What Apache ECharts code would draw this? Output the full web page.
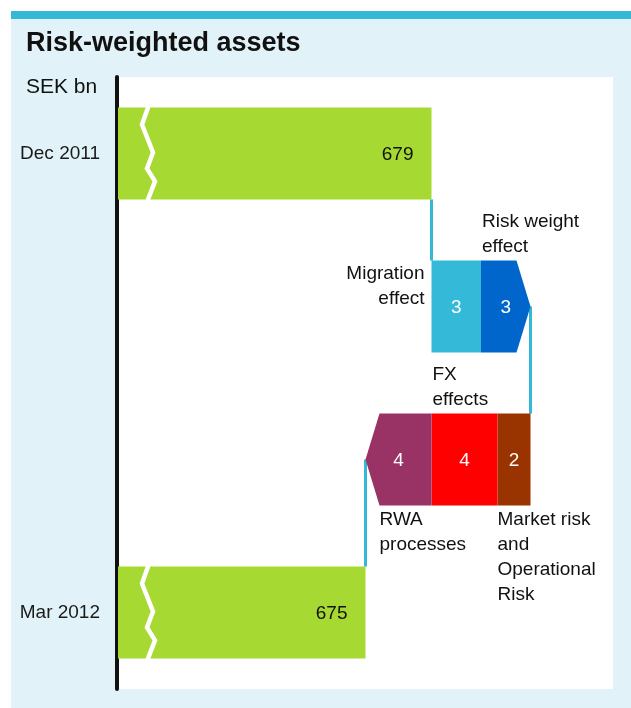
<!DOCTYPE html>
<html>
<head>
<meta charset="utf-8">
<script src="https://cdn.jsdelivr.net/npm/echarts@6/dist/echarts.min.js"></script>
<style>
  html, body { margin: 0; padding: 0; background: #fff; }
  #chart { width: 631px; height: 708px; }
</style>
</head>
<body>
<div id="chart"></div>
<script>
// rows of the bridge, top to bottom
const categories = ['Dec 2011', '', '', 'Mar 2012']
const startTotal = 679
const endTotal = 675

// steps in the order they are walked, from Dec 2011 towards Mar 2012
const stepNames = ['Migration\neffect', 'Risk weight\neffect', 'Market risk\nand\nOperational\nRisk', 'FX\neffects', 'RWA\nprocesses']
const stepValues = [3, 3, -2, -4, -4]
const stepRows = [1, 1, 2, 2, 2]

const stepColors = ['#35b9d8', '#0066cc', '#993300', '#ff0000', '#993366']
const stepNameSide = ['left', 'top', 'bottom', 'top', 'bottom']

const FONT = "'Liberation Sans', Arial, sans-serif"
const GREEN = '#a6d932'
const TEAL = '#35b8d6'

// cumulative walk
const stepData = []
let level = startTotal
stepValues.forEach((v, i) => {
  stepData.push([level, level + v, stepRows[i], i])
  level += v
})
// last piece of each row gets an arrow tip
const isArrow = stepData.map((d, i) => i === stepData.length - 1 || stepRows[i + 1] !== stepRows[i])

const totalData = [[startTotal, 0], [endTotal, categories.length - 1]]

// connector lines: [value, fromRow, toRow, fromMiddle]
const connectorData = [[startTotal, 0, 1, 0]]
stepData.forEach((d, i) => {
  if (isArrow[i]) connectorData.push([d[1], d[2], d[2] + 1, 1])
})

const chart = echarts.init(document.getElementById('chart'))

function renderTotal(params, api) {
  const cs = params.coordSys
  const end = api.coord([api.value(0), api.value(1)])
  const h = api.size([0, 1])[1] * 0.6
  const x0 = cs.x
  const top = end[1] - h / 2
  const zig = [[30, -2], [30, 0], [24, 17], [35, 45], [29, 61], [37, 74], [30, 92], [30, 94]]
    .map(p => [x0 + p[0], top + p[1] * h / 92])
  return {
    type: 'group',
    children: [
      { type: 'rect', shape: { x: x0, y: top, width: end[0] - x0, height: h }, style: { fill: GREEN } },
      { type: 'polyline', shape: { points: zig }, style: { stroke: '#fff', lineWidth: 4.5, fill: null } },
      {
        type: 'text',
        style: {
          text: String(api.value(0)), x: end[0] - 18, y: end[1] + 1,
          align: 'right', verticalAlign: 'middle',
          fontSize: 19, fontFamily: FONT, fill: '#111'
        }
      }
    ]
  }
}

function renderStep(params, api) {
  const i = params.dataIndex
  const a = api.coord([api.value(0), api.value(2)])
  const b = api.coord([api.value(1), api.value(2)])
  const h = api.size([0, 1])[1] * 0.6
  const top = a[1] - h / 2
  const bottom = a[1] + h / 2
  const dir = b[0] >= a[0] ? 1 : -1
  const tip = isArrow[i] ? 14 * dir : 0
  const pts = [[a[0], top], [b[0] - tip, top], [b[0], a[1]], [b[0] - tip, bottom], [a[0], bottom]]
  const rectLeft = Math.min(a[0], b[0] - tip)
  const side = stepNameSide[i]
  let nameStyle
  if (side === 'left') {
    nameStyle = { x: Math.min(a[0], b[0]) - 7, y: a[1] - 20, align: 'right', verticalAlign: 'middle' }
  } else if (side === 'top') {
    nameStyle = { x: rectLeft + 1, y: top - 1, align: 'left', verticalAlign: 'bottom' }
  } else {
    nameStyle = { x: rectLeft, y: bottom + 2, align: 'left', verticalAlign: 'top' }
  }
  return {
    type: 'group',
    children: [
      { type: 'polygon', shape: { points: pts }, style: { fill: stepColors[i] } },
      {
        type: 'text',
        style: {
          text: String(Math.abs(stepValues[i])), x: (a[0] + b[0]) / 2, y: a[1] + 1,
          align: 'center', verticalAlign: 'middle',
          fontSize: 19, fontFamily: FONT, fill: '#fff'
        }
      },
      {
        type: 'text',
        style: Object.assign({
          text: stepNames[i], fontSize: 19, lineHeight: 25, fontFamily: FONT, fill: '#111'
        }, nameStyle)
      }
    ]
  }
}

function renderConnector(params, api) {
  const h = api.size([0, 1])[1] * 0.6
  const from = api.coord([api.value(0), api.value(1)])
  const to = api.coord([api.value(0), api.value(2)])
  const y1 = api.value(3) ? from[1] : from[1] + h / 2
  const y2 = to[1] - h / 2
  return {
    type: 'line',
    shape: { x1: from[0], y1: y1, x2: from[0], y2: y2 },
    style: { stroke: TEAL, lineWidth: 3 }
  }
}

const option = {
  backgroundColor: '#e1f3f8',
  animation: false,
  graphic: [
    { type: 'rect', shape: { x: 0, y: 0, width: 631, height: 11 }, style: { fill: '#fff' } },
    { type: 'rect', shape: { x: 0, y: 0, width: 11, height: 708 }, style: { fill: '#fff' } },
    { type: 'rect', shape: { x: 11, y: 11, width: 620, height: 8 }, style: { fill: TEAL } }
  ],
  title: [
    {
      text: 'Risk-weighted assets',
      left: 21,
      top: 25,
      textStyle: { fontSize: 27, fontWeight: 'bold', fontFamily: FONT, color: '#111' }
    },
    {
      text: 'SEK bn',
      left: 21,
      top: 72,
      textStyle: { fontSize: 21, fontWeight: 'normal', fontFamily: FONT, color: '#111' }
    }
  ],
  grid: {
    left: 118,
    right: 18,
    top: 77,
    bottom: 19,
    show: true,
    backgroundColor: '#fff',
    borderWidth: 0
  },
  xAxis: {
    type: 'value',
    min: 660,
    max: 690,
    show: false
  },
  yAxis: {
    type: 'category',
    data: categories,
    inverse: true,
    offset: 1,
    axisLine: { lineStyle: { color: '#111', width: 4, cap: 'round' } },
    axisTick: { show: false },
    splitLine: { show: false },
    axisLabel: { margin: 17, fontSize: 19, fontFamily: FONT, color: '#1a1a1a' }
  },
  series: [
    {
      type: 'custom',
      name: 'connectors',
      renderItem: renderConnector,
      encode: { x: 0, y: 1 },
      data: connectorData,
      z: 1
    },
    {
      type: 'custom',
      name: 'totals',
      renderItem: renderTotal,
      encode: { x: 0, y: 1 },
      data: totalData,
      z: 2
    },
    {
      type: 'custom',
      name: 'steps',
      renderItem: renderStep,
      encode: { x: [0, 1], y: 2 },
      data: stepData,
      z: 2
    }
  ]
}

chart.setOption(option)
</script>
</body>
</html>
